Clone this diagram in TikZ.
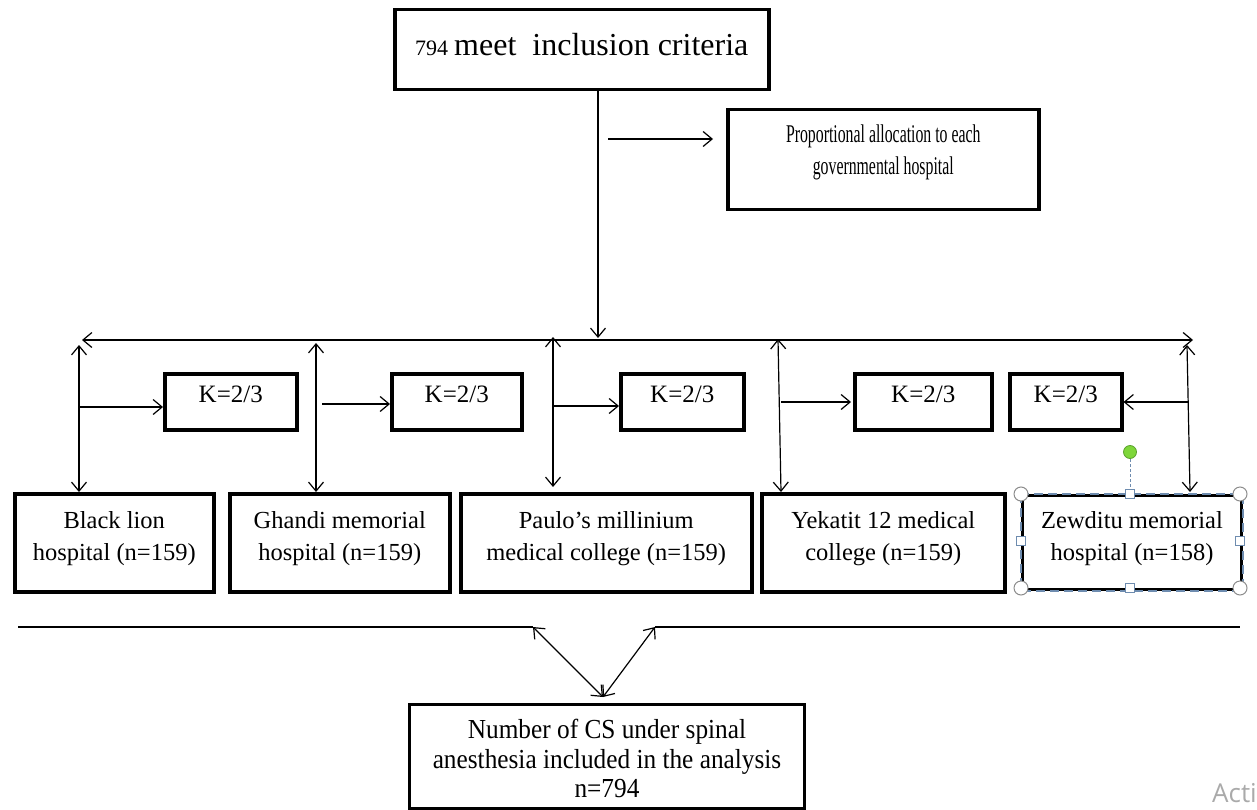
\documentclass[tikz,border=0pt]{standalone}
\usepackage{fontspec}
\setmainfont{Liberation Serif}
\newfontfamily\narrowfont[FakeStretch=0.62]{Liberation Serif}
\newfontfamily\bottomfont[FakeStretch=0.92]{Liberation Serif}
\newfontfamily\wmfont{Open Sans}
\usetikzlibrary{arrows.meta}
\newcommand{\tb}[4]{\parbox[c][#2pt][t]{#1pt}{\centering\rule{0pt}{#3pt}#4\par}}
\newcommand{\fb}{\fontsize{24.5}{32}\selectfont}
\definecolor{selblue}{RGB}{110,140,175}
\definecolor{handlegray}{RGB}{140,140,140}
\definecolor{rotgreen}{RGB}{126,214,58}
\definecolor{rotgreend}{RGB}{90,160,45}
\definecolor{wmgray}{RGB}{170,170,170}
\tikzset{
  box/.style={draw, line width=3.5pt, inner sep=0pt},
  conn/.style={line width=1.2pt},
  >={Straight Barb[length=9pt,width=15pt]}
}
\begin{document}
\begin{tikzpicture}[x=1pt,y=-1pt]
\useasboundingbox (0,0) rectangle (1257,810);

% top boxes
\node[box, anchor=north west] (top) at (393,8)
  {\tb{374}{80}{46}{{\fontsize{22}{26}\selectfont 794}\hspace{6pt}{\fontsize{32}{38}\selectfont meet\ \ inclusion criteria}}};
\node[box, anchor=north west] (prop) at (726,108)
  {\tb{311}{100}{33}{\narrowfont\fontsize{25.5}{32}\selectfont Proportional allocation to each\\governmental hospital}};

% K boxes
\node[box, anchor=north west] (K1) at (163,372) {\tb{132}{56}{29}{\fontsize{25}{30}\selectfont K=2/3}};
\node[box, anchor=north west] (K2) at (390,372) {\tb{130}{56}{29}{\fontsize{25}{30}\selectfont K=2/3}};
\node[box, anchor=north west] (K3) at (619,372) {\tb{123}{56}{29}{\fontsize{25}{30}\selectfont K=2/3}};
\node[box, anchor=north west] (K4) at (853,372) {\tb{137}{56}{29}{\fontsize{25}{30}\selectfont K=2/3}};
\node[box, anchor=north west] (K5) at (1008,372) {\tb{112}{56}{29}{\fontsize{25}{30}\selectfont K=2/3}};

% hospital boxes
\node[box, anchor=north west] (B1) at (13,492) {\tb{199}{98}{35}{\fb Black lion\\hospital (n=159)}};
\node[box, anchor=north west] (B2) at (228,492) {\tb{220}{98}{35}{\fb Ghandi memorial\\hospital (n=159)}};
\node[box, anchor=north west] (B3) at (459,492) {\tb{291}{98}{35}{\fb Paulo’s millinium\\medical college (n=159)}};
\node[box, anchor=north west] (B4) at (760,492) {\tb{243}{98}{35}{\fb Yekatit 12 medical\\college (n=159)}};
\node[draw, line width=3pt, inner sep=0pt, anchor=north west] (B5) at (1021,494)
  {\tb{219}{94}{33}{\fb Zewditu memorial\\hospital (n=158)}};

% final box
\node[draw, line width=3pt, inner sep=0pt, anchor=north west] (fin) at (408,703)
  {\tb{395}{104}{34}{\bottomfont\fontsize{27.5}{29.5}\selectfont Number of CS under spinal\\anesthesia included in the analysis\\n=794}};

% coordinates
\coordinate (hmid) at (598,338);
\coordinate (hl) at (82,340);
\coordinate (hr) at (1193,340);
\coordinate (pa1) at (608,139);
\coordinate (pa2) at (713,139);
\coordinate (v1t) at (79,345);
\coordinate (v2t) at (316,343);
\coordinate (v3t) at (553,337);
\coordinate (v3b) at (553,487);
\coordinate (v4t) at (778,339);
\coordinate (v4b) at (781,492);
\coordinate (v5t) at (1187,345);
\coordinate (v5b) at (1190,492);
\coordinate (k1s) at (79,407);
\coordinate (k2s) at (322,404);
\coordinate (k3s) at (553,406);
\coordinate (k4s) at (781,402);
\coordinate (k4e) at (851,402);
\coordinate (k5s) at (1188,402);
\coordinate (bl1) at (18,627);
\coordinate (bl2) at (533,627);
\coordinate (bl3) at (655,627);
\coordinate (bl4) at (1240,627);
\coordinate (bv) at (603,697);

% connectors
\draw[conn,->] (top.south -| hmid) -- (hmid);
\draw[conn,->] (pa1) -- (pa2);
\draw[conn,<->] (hl) -- (hr);
\draw[conn,<->] (v1t) -- (B1.north -| v1t);
\draw[conn,<->] (v2t) -- (B2.north -| v2t);
\draw[conn,<->] (v3t) -- (v3b);
\draw[conn,<->] (v4t) -- (v4b);
\draw[conn,<->] (v5t) -- (v5b);
\draw[conn,->] (k1s) -- (K1.west |- k1s);
\draw[conn,->] (k2s) -- (K2.west |- k2s);
\draw[conn,->] (k3s) -- (K3.west |- k3s);
\draw[conn,->] (k4s) -- (k4e);
\draw[conn,->] (k5s) -- (K5.east |- k5s);
\draw[conn] (bl1) -- (bl2);
\draw[conn] (bl3) -- (bl4);
\draw[conn,<->] (bl2) -- (bv);
\draw[conn,<->] (bl3) -- (bv);

% selection frame and handles on Zewditu box
\draw[selblue, line width=1.3pt, dash pattern=on 9pt off 5pt] (B5.north west) rectangle (B5.south east);
\draw[selblue, line width=1pt, dash pattern=on 3pt off 2pt] (1130,459) -- (1130,489);
\draw[rotgreend, fill=rotgreen, line width=0.8pt] (1130,452) circle (6.5);
\foreach \p in {(1021,494),(1240,494),(1021,588),(1240,588)}
  \draw[handlegray, fill=white, line width=1pt] \p circle (7);
\foreach \p in {(1130,494),(1130,588),(1021,541),(1240,541)}
  \draw[selblue, fill=white, line width=1pt] \p ++(-4.5,-4.5) rectangle ++(9,9);

% watermark
\node[anchor=west, inner sep=0pt, text=wmgray] (wm) at (1212,793) {\wmfont\fontsize{26}{30}\selectfont Acti};
\end{tikzpicture}
\end{document}
